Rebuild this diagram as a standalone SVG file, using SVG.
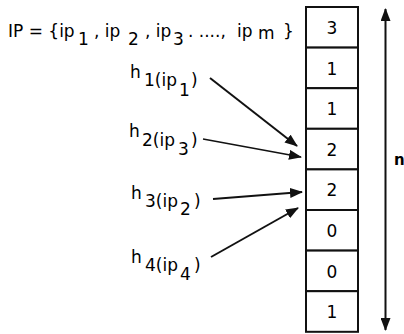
<svg xmlns="http://www.w3.org/2000/svg" width="404" height="334" viewBox="0 0 404 334">
<defs>
<style>
.t{font-family:"DejaVu Sans","Liberation Sans",sans-serif;font-size:17px;fill:#000}
.d{font-family:"DejaVu Sans","Liberation Sans",sans-serif;font-size:17px;fill:#000;text-anchor:middle}
.cell{fill:#fff;stroke:#111;stroke-width:2}
.ar{stroke:#111;stroke-width:2;fill:none}
</style>
<marker id="ah" viewBox="0 0 13 10" refX="12" refY="5" markerWidth="13" markerHeight="10" markerUnits="userSpaceOnUse" orient="auto-start-reverse">
<path d="M0,0 L13,5 L0,10 Z" fill="#111"/>
</marker>
</defs>
<rect width="404" height="334" fill="#fff"/>
<g id="ipset">
<text class="t"><tspan x="8" y="37">IP = {ip</tspan><tspan x="78" y="45">1</tspan><tspan x="94" y="37">, ip</tspan><tspan x="128" y="45">2</tspan><tspan x="145" y="37">, ip</tspan><tspan x="173" y="45">3</tspan><tspan x="188" y="37">. ....,</tspan><tspan x="237" y="37">ip</tspan><tspan x="258" y="39">m</tspan><tspan x="283" y="37">}</tspan></text>
</g>
<g id="array">
<rect class="cell" x="306" y="7" width="52" height="40.6"/>
<rect class="cell" x="306" y="47.6" width="52" height="40.6"/>
<rect class="cell" x="306" y="88.2" width="52" height="40.6"/>
<rect class="cell" x="306" y="128.8" width="52" height="40.6"/>
<rect class="cell" x="306" y="169.4" width="52" height="40.6"/>
<rect class="cell" x="306" y="210" width="52" height="40.6"/>
<rect class="cell" x="306" y="250.6" width="52" height="40.6"/>
<rect class="cell" x="306" y="291.2" width="52" height="40.6"/>
<text class="d" x="332" y="34">3</text>
<text class="d" x="332" y="74.6">1</text>
<text class="d" x="332" y="115.2">1</text>
<text class="d" x="332" y="155.8">2</text>
<text class="d" x="332" y="196.4">2</text>
<text class="d" x="332" y="237">0</text>
<text class="d" x="332" y="277.6">0</text>
<text class="d" x="332" y="318.2">1</text>
</g>
<g id="h1"><text class="t"><tspan x="130" y="78">h</tspan><tspan x="144" y="86">1(ip</tspan><tspan x="179" y="96">1</tspan><tspan x="191" y="86">)</tspan></text></g>
<g id="h2"><text class="t"><tspan x="129" y="137">h</tspan><tspan x="142" y="146">2(ip</tspan><tspan x="178" y="155">3</tspan><tspan x="191" y="146">)</tspan></text></g>
<g id="h3"><text class="t"><tspan x="131" y="199">h</tspan><tspan x="145" y="207">3(ip</tspan><tspan x="180" y="215">2</tspan><tspan x="194" y="207">)</tspan></text></g>
<g id="h4"><text class="t"><tspan x="131" y="263">h</tspan><tspan x="145" y="271">4(ip</tspan><tspan x="180" y="280">4</tspan><tspan x="194" y="271">)</tspan></text></g>
<g id="nlabel"><text class="t" x="394" y="165" style="font-weight:bold;font-size:15px">n</text></g>
<g id="connectors">
<line class="ar" x1="210" y1="78" x2="297" y2="146" marker-end="url(#ah)"/>
<line class="ar" x1="203" y1="139" x2="301" y2="157" style="stroke-width:1.5" marker-end="url(#ah)"/>
<line class="ar" x1="213" y1="199" x2="302" y2="192" marker-end="url(#ah)"/>
<line class="ar" x1="211" y1="257" x2="298" y2="208" marker-end="url(#ah)"/>
<line class="ar" x1="385.5" y1="9" x2="385.5" y2="330" marker-start="url(#ah)" marker-end="url(#ah)"/>
</g>
</svg>
